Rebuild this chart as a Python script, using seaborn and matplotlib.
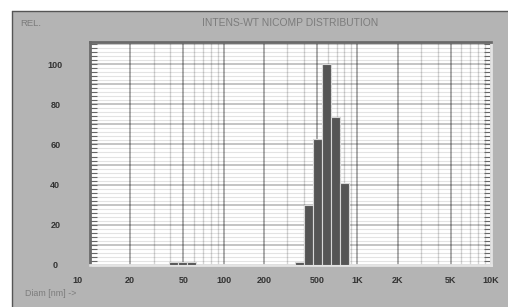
import numpy as np
import matplotlib
matplotlib.use("Agg")
import matplotlib.pyplot as plt
from matplotlib.patches import Rectangle
from matplotlib.lines import Line2D
from matplotlib.transforms import ScaledTranslation
from matplotlib.ticker import FixedLocator, LogLocator, MultipleLocator, NullFormatter, FuncFormatter
import seaborn as sns

# ── data ──
diam_nm = [42.0, 49.0, 57.5, 372.0, 434.0, 507.0, 592.0, 692.0, 808.0]
rel_intens = [1.3, 1.3, 1.3, 1.3, 30.0, 62.5, 100.0, 73.5, 41.0]

x_ticks = [10, 20, 50, 100, 200, 500, 1000, 2000, 5000, 10000]
x_tick_labels = ["10", "20", "50", "100", "200", "500", "1K", "2K", "5K", "10K"]
y_label_step = 20

# ── style ──
BG = "#b4b4b4"
BAR = "#555555"
TXT_DARK = "#333333"
TXT_GREY = "#7c7c7c"

sns.set_theme(style="white")
plt.rcParams["font.family"] = ["Liberation Sans", "DejaVu Sans"]

W, H = 508, 307
fig = plt.figure(figsize=(W / 100, H / 100), dpi=100, facecolor="white")

# grey panel with dark border on left / top
fig.patches.append(Rectangle((12 / W, 0), 1, (H - 11) / H, transform=fig.transFigure,
                             facecolor=BG, edgecolor="none", zorder=-5))
fig.lines.append(Line2D([11.5 / W, 11.5 / W], [0, (H - 10.5) / H], transform=fig.transFigure,
                        color="#555555", lw=1, zorder=-4))
fig.lines.append(Line2D([11.5 / W, 1], [(H - 10.5) / H, (H - 10.5) / H], transform=fig.transFigure,
                        color="#555555", lw=1, zorder=-4))

ax = fig.add_axes([90 / W, (H - 265) / H, 401 / W, 223 / H])
ax.set_facecolor("white")

# log-spaced bins, step taken from the main peak
log_d = np.log10(diam_nm)
step = np.mean(np.diff(log_d[3:]))
lo, hi = log_d.min() - step / 2, log_d.max() + step / 2
n_bins = int(round((hi - lo) / step))

sns.histplot(x=diam_nm, weights=rel_intens, log_scale=True, bins=n_bins, binrange=(lo, hi),
             color=BAR, edgecolor="#d8d8d8", linewidth=0.8, alpha=1, ax=ax, zorder=3)

ax.set_xlim(10, 10000)
ax.set_ylim(0, 111)
ax.set_xlabel("")
ax.set_ylabel("")

# grid: translucent black so crossings darken instead of breaking lines
ax.xaxis.set_major_locator(FixedLocator(x_ticks))
ax.set_xticklabels(x_tick_labels)
ax.xaxis.set_minor_locator(LogLocator(base=10, subs=range(2, 10)))
ax.xaxis.set_minor_formatter(NullFormatter())
ax.grid(True, axis="x", which="major", color="black", alpha=0.32, lw=1.4)
ax.grid(True, axis="x", which="minor", color="black", alpha=0.17, lw=1.0)

ax.yaxis.set_major_locator(MultipleLocator(10))
ax.yaxis.set_minor_locator(MultipleLocator(2))
ax.yaxis.set_major_formatter(FuncFormatter(lambda v, p: f"{int(v)}" if int(v) % y_label_step == 0 else ""))
ax.grid(True, axis="y", which="major", color="black", alpha=0.27, lw=1.2)
ax.grid(True, axis="y", which="minor", color="black", alpha=0.11, lw=0.8)
ax.set_axisbelow(True)

ax.tick_params(axis="x", which="both", length=0, pad=8, labelsize=6.5, labelcolor=TXT_DARK)
ax.tick_params(axis="y", which="both", direction="in", left=True, right=True, length=5,
               width=0.8, color="#666666", pad=25, labelsize=6.5, labelcolor=TXT_DARK)
for lab in ax.get_xticklabels() + ax.get_yticklabels():
    lab.set_fontweight("bold")
for lab in ax.get_yticklabels():
    lab.set_horizontalalignment("center")
# first x label sits left of the axis edge on the printout
first = ax.get_xticklabels()[0]
first.set_transform(first.get_transform() + ScaledTranslation(-0.13, 0, fig.dpi_scale_trans))

# bevelled frame
for side in ("left", "top"):
    ax.spines[side].set_color("#6a6a6a")
    ax.spines[side].set_linewidth(2)
for side in ("right", "bottom"):
    ax.spines[side].set_color("#e4e4e4")
    ax.spines[side].set_linewidth(2)

fig.text(20 / W, 1 - 23 / H, "REL.", color=TXT_GREY, fontsize=6.8, va="center", ha="left")
fig.text(290 / W, 1 - 23 / H, "INTENS-WT NICOMP DISTRIBUTION", color=TXT_GREY,
         fontsize=7.4, va="center", ha="center")
fig.text(25 / W, 1 - 293 / H, "Diam [nm] ->", color=TXT_GREY, fontsize=6.4, va="center", ha="left")

fig.savefig("out.png", dpi=100, facecolor=fig.get_facecolor())
